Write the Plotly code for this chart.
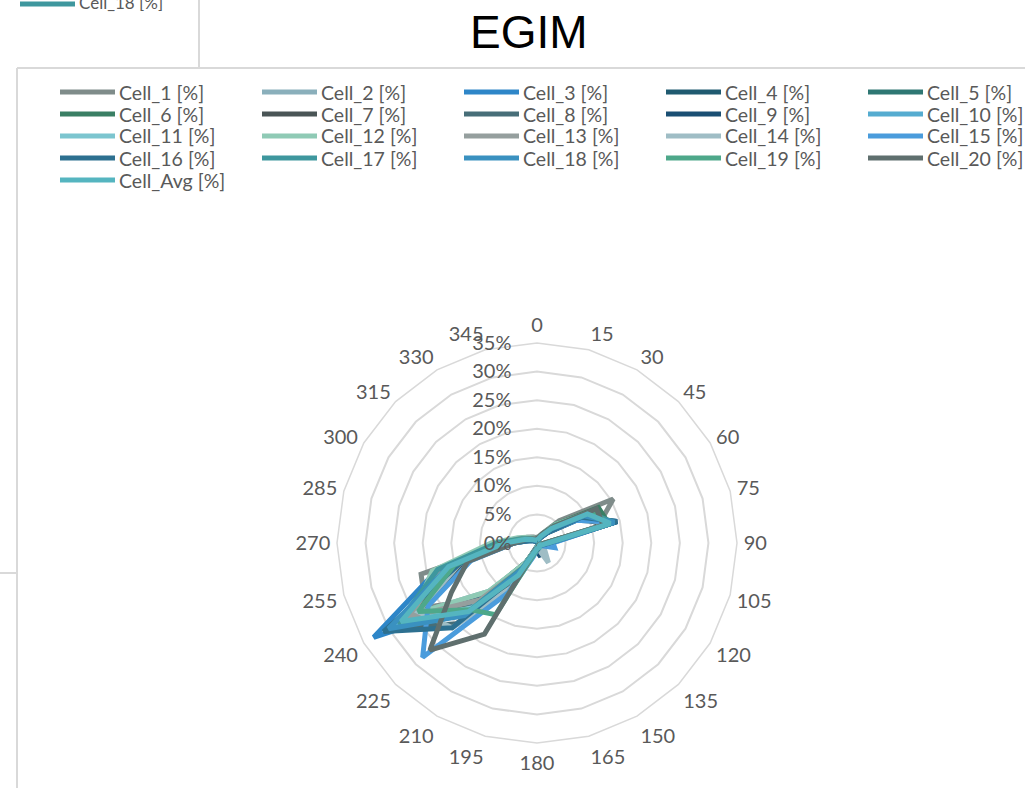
import plotly.graph_objects as go

# Wind-sector directions (degrees) used as the angular categories
directions = [0, 15, 30, 45, 60, 75, 90, 105, 120, 135, 150, 165,
              180, 195, 210, 225, 240, 255, 270, 285, 300, 315, 330, 345]

# Share of samples per direction sector for each cell [%]
cell_1 = [1.0, 1.2, 2.0, 5.5, 15.4, 11.0, 1.5, 0.8, 0.5, 0.5, 0.6, 0.8, 1.0, 1.5, 4.0, 14.0, 22.5, 21.0, 5.0, 3.0, 2.0, 1.5, 1.2, 1.0]
cell_2 = [0.5, 0.8, 1.5, 3.5, 10.0, 13.0, 1.8, 1.0, 0.8, 1.2, 2.5, 0.8, 0.6, 1.2, 5.0, 12.0, 25.0, 16.0, 6.0, 2.5, 1.5, 0.8, 0.5, 0.4]
cell_3 = [0.3, 0.5, 1.2, 3.0, 9.0, 14.5, 2.0, 1.0, 0.5, 0.4, 0.4, 0.5, 0.8, 1.5, 4.0, 15.0, 33.0, 18.0, 5.5, 2.0, 1.0, 0.6, 0.4, 0.3]
cell_4 = [0.2, 0.4, 1.0, 2.5, 8.0, 14.0, 2.2, 1.2, 0.6, 0.5, 0.8, 2.0, 1.2, 1.0, 5.0, 17.0, 29.0, 15.0, 4.5, 1.5, 0.8, 0.5, 0.3, 0.2]
cell_5 = [0.4, 0.6, 1.4, 3.2, 10.0, 13.5, 1.6, 0.8, 0.5, 0.4, 0.5, 0.6, 0.8, 1.3, 4.5, 14.0, 27.0, 17.0, 6.0, 2.2, 1.2, 0.7, 0.5, 0.4]
cell_6 = [0.6, 0.9, 1.8, 4.5, 12.4, 13.0, 1.5, 0.7, 0.4, 0.4, 0.5, 0.6, 0.9, 1.4, 4.0, 13.0, 26.0, 16.0, 6.5, 2.8, 1.6, 1.0, 0.7, 0.6]
cell_7 = [0.5, 0.7, 1.5, 3.8, 9.0, 12.0, 1.7, 0.9, 0.6, 0.5, 0.6, 0.7, 1.0, 1.8, 6.0, 16.0, 24.0, 13.0, 4.0, 2.0, 1.2, 0.8, 0.6, 0.5]
cell_8 = [0.3, 0.5, 1.1, 2.8, 9.0, 14.0, 2.0, 1.1, 0.7, 0.6, 0.7, 0.9, 1.2, 2.0, 8.0, 20.0, 30.0, 14.0, 4.0, 1.6, 0.9, 0.5, 0.3, 0.3]
cell_9 = [0.2, 0.4, 0.9, 2.6, 8.5, 14.5, 2.4, 1.3, 0.8, 0.7, 1.0, 2.5, 1.5, 1.2, 4.5, 13.0, 28.0, 16.0, 5.0, 1.8, 0.9, 0.5, 0.3, 0.2]
cell_10 = [0.4, 0.6, 1.3, 3.3, 10.0, 14.0, 1.9, 1.0, 0.6, 0.5, 0.6, 0.7, 0.9, 1.6, 5.5, 18.0, 29.0, 17.0, 6.0, 2.4, 1.3, 0.8, 0.5, 0.4]
cell_11 = [0.6, 0.8, 1.6, 3.9, 10.0, 13.0, 1.6, 0.8, 0.5, 0.4, 0.5, 0.6, 0.8, 1.5, 5.0, 16.0, 27.0, 18.0, 7.0, 3.0, 1.8, 1.1, 0.8, 0.6]
cell_12 = [0.8, 1.0, 1.9, 4.6, 11.0, 12.0, 1.4, 0.7, 0.4, 0.3, 0.4, 0.5, 0.7, 1.2, 4.0, 12.0, 25.0, 19.0, 8.0, 3.5, 2.0, 1.3, 1.0, 0.8]
cell_13 = [0.7, 0.9, 1.7, 4.2, 10.0, 13.0, 1.7, 0.9, 0.6, 0.6, 1.0, 0.7, 0.9, 1.6, 5.0, 14.0, 26.0, 17.0, 6.5, 3.0, 1.7, 1.1, 0.8, 0.7]
cell_14 = [0.4, 0.6, 1.3, 3.0, 9.0, 12.5, 2.5, 1.6, 1.2, 2.0, 4.0, 1.2, 0.9, 2.2, 9.0, 21.0, 24.0, 14.0, 5.0, 2.0, 1.0, 0.6, 0.4, 0.4]
cell_15 = [0.3, 0.5, 1.0, 2.7, 8.0, 14.0, 2.8, 3.2, 1.0, 0.6, 0.6, 0.8, 1.2, 2.5, 10.0, 28.3, 22.0, 12.0, 4.0, 1.6, 0.8, 0.5, 0.3, 0.3]
cell_16 = [0.2, 0.4, 1.0, 2.6, 9.0, 14.5, 2.1, 1.2, 0.7, 0.6, 0.7, 1.0, 1.3, 1.8, 6.0, 21.0, 31.0, 14.0, 4.2, 1.5, 0.8, 0.4, 0.2, 0.2]
cell_17 = [0.5, 0.7, 1.5, 3.8, 10.5, 14.0, 1.8, 0.9, 0.5, 0.4, 0.5, 0.6, 0.9, 1.5, 5.0, 17.0, 28.0, 18.0, 7.0, 2.8, 1.5, 0.9, 0.6, 0.5]
cell_18 = [0.4, 0.6, 1.3, 3.4, 9.5, 14.0, 1.9, 1.0, 0.6, 0.5, 0.6, 0.7, 1.0, 1.7, 5.5, 18.0, 30.0, 16.0, 5.5, 2.2, 1.2, 0.7, 0.5, 0.4]
cell_19 = [0.6, 0.8, 1.7, 4.3, 11.0, 13.0, 1.5, 0.8, 0.5, 0.5, 0.6, 0.8, 1.1, 2.0, 14.5, 16.5, 24.0, 15.0, 6.0, 2.6, 1.4, 0.9, 0.7, 0.6]
cell_20 = [0.8, 1.0, 1.8, 4.0, 12.0, 12.0, 1.4, 0.8, 0.5, 0.5, 0.6, 0.8, 1.0, 1.3, 18.4, 26.5, 17.3, 12.6, 4.0, 2.2, 1.4, 1.0, 0.8, 0.8]
cell_avg = [0.5, 0.7, 1.4, 3.6, 10.2, 13.3, 1.9, 1.1, 0.6, 0.6, 0.9, 0.9, 1.0, 1.6, 6.5, 17.0, 27.5, 16.0, 5.6, 2.3, 1.3, 0.8, 0.6, 0.5]

series_names = ["Cell_1 [%]", "Cell_2 [%]", "Cell_3 [%]", "Cell_4 [%]", "Cell_5 [%]",
                "Cell_6 [%]", "Cell_7 [%]", "Cell_8 [%]", "Cell_9 [%]", "Cell_10 [%]",
                "Cell_11 [%]", "Cell_12 [%]", "Cell_13 [%]", "Cell_14 [%]", "Cell_15 [%]",
                "Cell_16 [%]", "Cell_17 [%]", "Cell_18 [%]", "Cell_19 [%]", "Cell_20 [%]",
                "Cell_Avg [%]"]
series_values = [cell_1, cell_2, cell_3, cell_4, cell_5, cell_6, cell_7, cell_8, cell_9,
                 cell_10, cell_11, cell_12, cell_13, cell_14, cell_15, cell_16, cell_17,
                 cell_18, cell_19, cell_20, cell_avg]
series_colors = ["#7F8C8A", "#8AAFBB", "#2E86C8", "#1F5A70", "#2E7773",
                 "#3A7F64", "#4A5556", "#476E78", "#1A4F73", "#55ACD0",
                 "#7CC5CF", "#8FCAB5", "#959F9E", "#9FBDC5", "#4A9CDC",
                 "#2D7090", "#3E979E", "#3A91C0", "#4EA88A", "#5F6F6E",
                 "#55B5C0"]

W, H = 1025, 788


def px(x):
    return x / W


def py(y):
    return 1 - y / H


GRID = "#D9D9D9"
TXT = "#595959"
FONT = "Lato, Open Sans, sans-serif"

fig = go.Figure()
labels = [str(d) for d in directions]
for name, vals, col in zip(series_names, series_values, series_colors):
    fig.add_trace(go.Scatterpolar(
        r=vals + vals[:1],
        theta=labels + labels[:1],
        mode="lines",
        name=name,
        line=dict(color=col, width=5),
        showlegend=False,
        hoverinfo="name+r+theta",
    ))

cx, cy, R = 537, 543, 200
fig.update_layout(
    width=W, height=H,
    margin=dict(l=0, r=0, t=0, b=0),
    paper_bgcolor="white",
    plot_bgcolor="white",
    showlegend=False,
    polar=dict(
        domain=dict(x=[px(cx - R), px(cx + R)], y=[py(cy + R), py(cy - R)]),
        bgcolor="white",
        gridshape="linear",
        angularaxis=dict(
            rotation=90, direction="clockwise",
            type="category",
            categoryorder="array", categoryarray=labels,
            showgrid=False,
            showline=True, linecolor=GRID, linewidth=1.5,
            ticks="outside", ticklen=2, tickcolor="rgba(0,0,0,0)",
            tickfont=dict(family=FONT, size=20, color=TXT),
        ),
        radialaxis=dict(
            range=[0, 35], dtick=5, tick0=0,
            ticksuffix="%",
            angle=90, tickangle=90,
            side="counterclockwise",
            showline=False,
            showgrid=True, gridcolor=GRID, gridwidth=1.5,
            ticks="outside", ticklen=18, tickcolor="rgba(0,0,0,0)",
            tickfont=dict(family=FONT, size=20, color=TXT),
        ),
    ),
)

# Legend: five columns of line samples with their series names
LEG_X0, LEG_Y0, COL_W, ROW_H = 60, 92, 202, 22
for i, (name, col) in enumerate(zip(series_names, series_colors)):
    c, r = i % 5, i // 5
    x0 = LEG_X0 + c * COL_W
    yy = LEG_Y0 + r * ROW_H
    fig.add_shape(type="line", xref="paper", yref="paper",
                  x0=px(x0), y0=py(yy), x1=px(x0 + 55), y1=py(yy),
                  line=dict(color=col, width=5))
    fig.add_annotation(text=name, x=px(x0 + 57), y=py(yy), xref="paper", yref="paper",
                       showarrow=False, xanchor="left", yanchor="middle",
                       font=dict(family=FONT, size=19.5, color=TXT))

# Chart title
fig.add_annotation(
    text="EGIM", x=px(529), y=py(32), xref="paper", yref="paper",
    showarrow=False, xanchor="center", yanchor="middle",
    font=dict(family="Liberation Sans, Arial, sans-serif", size=46, color="black"),
)

# Frame of the chart area and the neighbouring chart edges
frame = [
    (17, 68, 1025, 68),
    (17, 68, 17, 788),
    (199, 0, 199, 68),
    (0, 573, 17, 573),
]
for x0, y0, x1, y1 in frame:
    fig.add_shape(type="line", xref="paper", yref="paper",
                  x0=px(x0), y0=py(y0), x1=px(x1), y1=py(y1),
                  line=dict(color=GRID, width=2))

# Legend entry of the adjacent chart peeking in at the top
fig.add_shape(type="line", xref="paper", yref="paper",
              x0=px(20), y0=py(4), x1=px(75), y1=py(4),
              line=dict(color="#3E979E", width=5))
fig.add_annotation(
    text="Cell_18 [%]", x=px(77), y=py(3), xref="paper", yref="paper",
    showarrow=False, xanchor="left", yanchor="middle",
    font=dict(family=FONT, size=17, color=TXT),
)

fig.write_html("out.html")
